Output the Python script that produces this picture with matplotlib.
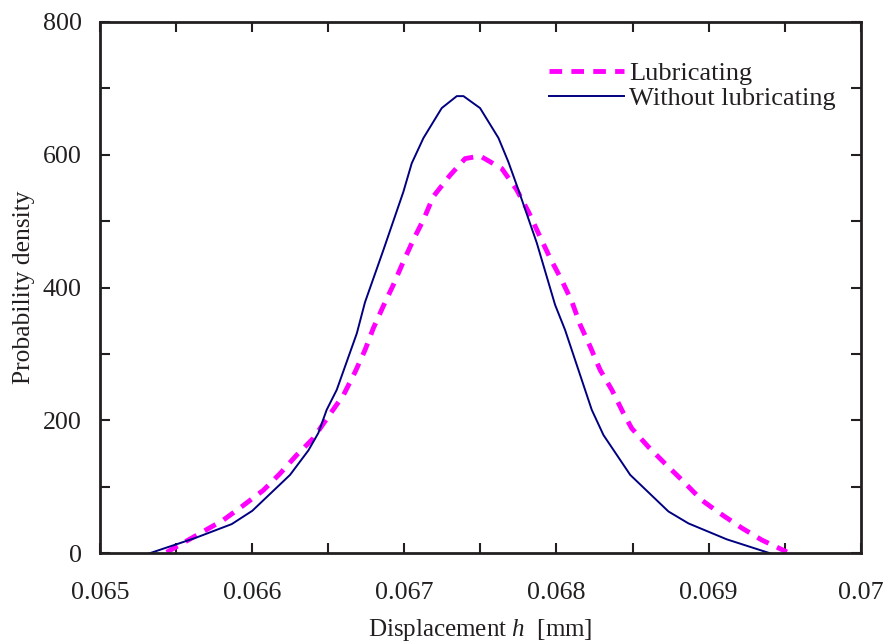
#!/usr/bin/env python3
"""Probability density of displacement h, with and without lubricating."""

import matplotlib
matplotlib.use("Agg")
import matplotlib.pyplot as plt
from matplotlib.ticker import MultipleLocator, FormatStrFormatter

# ─── DATA ──────────────────────────────────────────────────────────────────────
h_lub = [0.065438, 0.065657, 0.065810, 0.065930, 0.066074, 0.066183, 0.066293,
         0.066402, 0.066501, 0.066600, 0.066677, 0.066742, 0.066797, 0.066862,
         0.066928, 0.066994, 0.067060, 0.067126, 0.067191, 0.067301, 0.067400,
         0.067498, 0.067641, 0.067739, 0.067816, 0.067893, 0.067959, 0.068035,
         0.068101, 0.068156, 0.068222, 0.068287, 0.068364, 0.068440, 0.068495,
         0.068605, 0.068714, 0.068835, 0.068955, 0.069076, 0.069219, 0.069350,
         0.069515]
pdf_lub = [1.5, 30, 50, 70, 95, 120, 148,
           173, 206, 238, 273, 306, 339, 372,
           404, 439, 472, 502, 537, 569, 594,
           598, 579, 547, 514, 476, 444, 411,
           379, 344, 311, 276, 246, 211, 188,
           160, 135, 108, 80, 60, 38, 20,
           2]

h_dry = [0.065325, 0.065625, 0.065866, 0.066001, 0.066249, 0.066370, 0.066435,
         0.066490, 0.066556, 0.066688, 0.066742, 0.066862, 0.066994, 0.067049,
         0.067126, 0.067246, 0.067345, 0.067389, 0.067498, 0.067619, 0.067684,
         0.067750, 0.067871, 0.067991, 0.068057, 0.068232, 0.068309, 0.068485,
         0.068736, 0.068868, 0.069120, 0.069405]
pdf_dry = [0, 23, 44, 64, 118, 155, 181,
           216, 246, 331, 378, 456, 544, 587,
           625, 670, 688, 688, 670, 625, 589,
           547, 467, 374, 336, 216, 178, 118,
           63, 45, 21, 0]

LABELS = ["Lubricating", "Without lubricating"]
OUTPUT_FILE = "out.png"
# ────────────────────────────────────────────────────────────────────────────────

plt.rcParams["font.family"] = ["Liberation Serif", "DejaVu Serif"]
plt.rcParams["mathtext.fontset"] = "custom"
plt.rcParams["mathtext.it"] = "Liberation Serif:italic"
plt.rcParams["mathtext.rm"] = "Liberation Serif"

INK = "#231f20"

fig = plt.figure(figsize=(8.88, 6.44), dpi=100)
ax = fig.add_axes([0.1126, 0.1408, 0.8567, 0.8255])

ax.plot(h_lub, pdf_lub, color="#ff00ff", lw=3.5, dashes=(2.6, 1.9), label=LABELS[0])
ax.plot(h_dry, pdf_dry, color="#000080", lw=1.4, label=LABELS[1])

ax.set_xlim(0.065, 0.070)
ax.set_ylim(0, 800)
ax.xaxis.set_major_locator(MultipleLocator(0.001))
ax.xaxis.set_minor_locator(MultipleLocator(0.0005))
ax.yaxis.set_major_locator(MultipleLocator(200))
ax.yaxis.set_minor_locator(MultipleLocator(100))
ax.xaxis.set_major_formatter(FormatStrFormatter("%g"))

ax.tick_params(which="both", direction="in", top=True, right=True,
               length=7, width=1.5, color=INK, labelsize=18.7, labelcolor=INK)
ax.tick_params(axis="x", pad=21)
ax.tick_params(axis="y", pad=13)
for sp in ax.spines.values():
    sp.set_linewidth(2)
    sp.set_color(INK)

ax.set_xlabel("Displacement $h$  [mm]", fontsize=18, color=INK, labelpad=9)
ax.set_ylabel("Probability density", fontsize=18.4, color=INK, labelpad=6)

leg = ax.legend(loc="upper right", bbox_to_anchor=(0.995, 0.964), frameon=False,
                fontsize=19, handlelength=2.85, handletextpad=0.2,
                labelspacing=0.05, borderpad=0.3)
for t in leg.get_texts():
    t.set_color(INK)

fig.savefig(OUTPUT_FILE, dpi=100)
